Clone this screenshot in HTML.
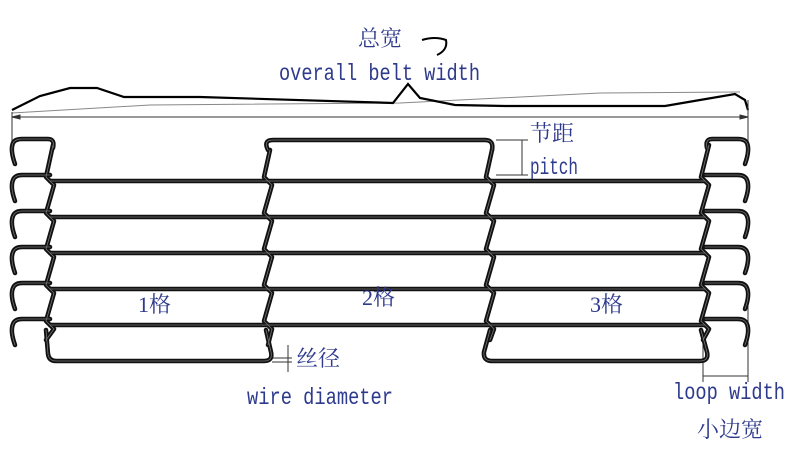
<!DOCTYPE html>
<html><head><meta charset="utf-8"><style>
html,body{margin:0;padding:0;background:#fff;}
svg{display:block}
text{font-family:"Liberation Mono","Noto Serif CJK SC",serif;fill:#2e3a8c;font-size:23px}
.cn{font-family:"Liberation Serif","Noto Serif CJK SC",serif;font-size:22px}
</style></head><body>
<svg width="795" height="450" viewBox="0 0 795 450" xmlns="http://www.w3.org/2000/svg">
<polyline points="12,113 150,105 400,103 600,93 740,92" fill="none" stroke="#888" stroke-width="1"/>
<polyline points="12,110 40,96 70,88 97,88 124,97 200,97 393,103 408,84 420,98 455,105 505,106 665,106 700,100 735,94 745,100 748,110" fill="none" stroke="#000" stroke-width="2.2"/>
<path d="M422,40 Q435,36 446,40 Q448,50 437,55" fill="none" stroke="#000" stroke-width="2"/>
<g stroke="#333" stroke-width="1" fill="#333">
<line x1="12" y1="117" x2="748" y2="117"/>
<line x1="12" y1="112" x2="12" y2="148"/>
<line x1="748" y1="100" x2="748" y2="145"/>
<polygon points="12,117 20,115 20,119"/>
<polygon points="748,117 740,115 740,119"/>
<line x1="496" y1="140" x2="528" y2="140"/>
<line x1="496" y1="175" x2="528" y2="175"/>
<line x1="522" y1="140" x2="522" y2="175"/>
<line x1="288" y1="345" x2="288" y2="372"/>
<line x1="272" y1="358" x2="292" y2="358"/>
<line x1="272" y1="362" x2="292" y2="362"/>
<line x1="703" y1="340" x2="703" y2="382"/>
<line x1="748" y1="300" x2="748" y2="382"/>
<line x1="703" y1="376" x2="748" y2="376"/>
</g>
<defs>
<g id="wire">
<path d="M50,181H705M50,217H705M50,253H705M50,289H705M50,325H705"/>
<path d="M268,150 Q263,140 273,140 L485,140 Q494,140 492,150"/>
<path d="M46,330 L48,354 Q49,361 56,361 L264,361 Q273,361 271,352 L266,330"/>
<path d="M490,330 L484,352 Q483,361 492,361 L700,361 Q709,361 707,352 L701,330"/>
<polyline points="53,145 46,177 54,185 46,213 54,221 46,249 54,257 46,285 54,293 46,321 54,329 46,340"/>
<polyline points="270,150 264,177 272,185 264,213 272,221 264,249 272,257 264,285 272,293 264,321 272,329 268,345"/>
<polyline points="492,150 486,177 494,185 486,213 494,221 486,249 494,257 486,285 494,293 486,321 494,329 490,340"/>
<polyline points="709,145 701,177 709,185 701,213 709,221 701,249 709,257 701,285 709,293 701,321 709,329 703,340"/>
<path d="M15,164 Q10,150 13,143 Q15,139 22,139 L48,139 Q55,139 53,148"/>
<path d="M15,201 Q10,187 13,180 Q15,175 22,175 L50,175"/>
<path d="M15,237 Q10,223 13,216 Q15,211 22,211 L50,211"/>
<path d="M15,273 Q10,259 13,252 Q15,247 22,247 L50,247"/>
<path d="M15,309 Q10,295 13,288 Q15,283 22,283 L50,283"/>
<path d="M15,345 Q10,331 13,324 Q15,319 22,319 L50,319"/>
<path d="M745,164 Q750,150 747,143 Q745,139 738,139 L712,139 Q705,139 707,148"/>
<path d="M745,201 Q750,187 747,180 Q745,175 738,175 L705,175"/>
<path d="M745,237 Q750,223 747,216 Q745,211 738,211 L705,211"/>
<path d="M745,273 Q750,259 747,252 Q745,247 738,247 L705,247"/>
<path d="M745,309 Q750,295 747,288 Q745,283 738,283 L705,283"/>
<path d="M745,345 Q750,331 747,324 Q745,319 738,319 L705,319"/>
</g>
</defs>
<use href="#wire" fill="none" stroke="#111" stroke-width="4.5" stroke-linecap="round" stroke-linejoin="round"/>
<use href="#wire" fill="none" stroke="#777" stroke-width="0.8" stroke-linecap="round" stroke-linejoin="round"/>
<text class="cn" x="358" y="46">总宽</text>
<text x="279" y="80" textLength="201" lengthAdjust="spacingAndGlyphs">overall belt width</text>
<text class="cn" x="530" y="141">节距</text>
<text x="530" y="174" textLength="48" lengthAdjust="spacingAndGlyphs">pitch</text>
<text class="cn" x="138" y="312">1格</text>
<text class="cn" x="362" y="305">2格</text>
<text class="cn" x="590" y="312">3格</text>
<text class="cn" x="296" y="366">丝径</text>
<text x="247" y="404" textLength="146" lengthAdjust="spacingAndGlyphs">wire diameter</text>
<text x="673" y="399" textLength="112" lengthAdjust="spacingAndGlyphs">loop width</text>
<text class="cn" x="697" y="437">小边宽</text>
</svg>
</body></html>
